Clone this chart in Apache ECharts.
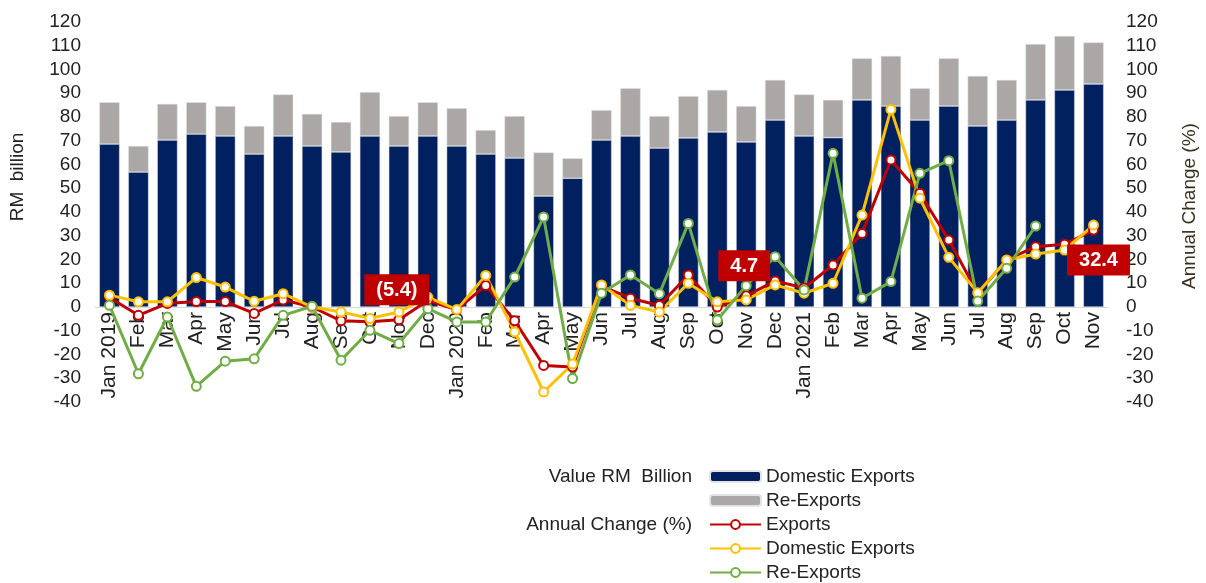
<!DOCTYPE html>
<html>
<head>
<meta charset="utf-8">
<title>Exports</title>
<script src="https://cdn.jsdelivr.net/npm/echarts@6/dist/echarts.min.js"></script>
<style>
  html, body { margin: 0; padding: 0; background: #fff; }
  #chart { width: 1206px; height: 583px; }
</style>
</head>
<body>
<div id="chart"></div>
<script>
// months, Jan 2019 - Nov 2021
var months = ['Jan 2019', 'Feb', 'Mar', 'Apr', 'May', 'Jun', 'Jul', 'Aug', 'Sep', 'Oct', 'Nov', 'Dec',
  'Jan 2020', 'Feb', 'Mar', 'Apr', 'May', 'Jun', 'Jul', 'Aug', 'Sep', 'Oct', 'Nov', 'Dec',
  'Jan 2021', 'Feb', 'Mar', 'Apr', 'May', 'Jun', 'Jul', 'Aug', 'Sep', 'Oct', 'Nov']

// value, RM billion
var domesticValue = [68.6, 56.8, 70.3, 72.8, 72.0, 64.4, 72.0, 67.8, 65.3, 72.0, 67.8, 72.0,
  67.8, 64.4, 62.7, 46.7, 54.2, 70.3, 72.0, 66.9, 71.2, 73.7, 69.5, 78.7,
  72.0, 71.3, 87.2, 84.6, 78.7, 84.6, 76.2, 78.7, 87.2, 91.4, 93.9]
var reExportValue = [17.6, 11.0, 15.2, 13.4, 12.6, 11.8, 17.5, 13.5, 12.6, 18.5, 12.6, 14.2,
  15.9, 10.1, 17.7, 18.4, 8.4, 12.6, 20.1, 13.5, 17.6, 17.7, 15.1, 16.9,
  17.5, 15.9, 17.5, 21.1, 13.4, 20.1, 21.1, 16.9, 23.5, 22.7, 17.5]

// annual change, %
var exportsChg = [4.0, -3.5, 1.5, 2.3, 2.3, -2.7, 3.0, 0.0, -5.8, -6.2, -5.4, 2.7,
  -1.2, 9.1, -5.8, -24.6, -25.3, 8.8, 3.7, 0.6, 13.5, 0.0, 4.7, 11.0,
  8.0, 17.7, 31.0, 61.9, 47.9, 28.2, 5.8, 19.8, 25.4, 26.4, 32.4]
var domesticChg = [5.0, 2.2, 2.2, 12.4, 8.4, 2.4, 5.6, 0.0, -2.1, -4.8, -2.1, 4.2,
  -1.1, 13.3, -10.5, -35.8, -24.0, 9.3, 0.7, -2.1, 10.0, 2.2, 3.0, 9.3,
  5.8, 10.0, 38.7, 83.2, 45.8, 20.9, 6.0, 19.8, 22.3, 24.0, 34.5]
var reExportChg = [0.7, -28.1, -4.2, -33.4, -22.8, -21.8, -3.5, 0.3, -22.4, -9.8, -15.4, -0.7,
  -6.3, -6.3, 12.6, 37.9, -30.1, 5.8, 13.5, 5.6, 35.2, -5.5, 9.0, 21.2,
  7.2, 64.7, 3.7, 10.7, 56.3, 61.6, 2.5, 16.3, 34.1, null, null]

// Nov points that carry a value box
var labelled = [10, 22, 34]

var font = "'Liberation Sans', Arial, sans-serif"
var chart = echarts.init(document.getElementById('chart'))

function lineSeries(name, color, data) {
  return {
    name: name,
    type: 'line',
    yAxisIndex: 1,
    data: data,
    symbol: 'circle',
    symbolSize: 9,
    lineStyle: { color: color, width: 3 },
    itemStyle: { color: '#fff', borderColor: color, borderWidth: 2 },
    z: 3
  }
}

var exportsSeries = lineSeries('Exports', '#C00000', exportsChg.map(function (v, i) {
  if (labelled.indexOf(i) < 0) return v
  return {
    value: v,
    label: {
      show: true,
      position: i === 34 ? 'bottom' : 'top',
      distance: 9,
      offset: i === 34 ? [5, 0] : [-2, 0],
      formatter: function (p) {
        var n = p.value
        return n < 0 ? '(' + Math.abs(n).toFixed(1) + ')' : n.toFixed(1)
      },
      color: '#fff',
      fontWeight: 'bold',
      fontSize: 20,
      fontFamily: font,
      backgroundColor: '#C00000',
      padding: [6, 12, 5, 12]
    }
  }
}))

// grid: top 22 (=120), bottom edge 402 (=-40), so zero sits 95px above the bottom
var option = {
  animation: false,
  textStyle: { fontFamily: font },
  grid: { left: 95, right: 98, top: 22, bottom: 181 },
  legend: {
    orient: 'vertical',
    left: 709,
    top: 467,
    padding: 0,
    itemWidth: 51,
    itemHeight: 11,
    itemGap: 5,
    textStyle: { fontSize: 19, color: '#222', lineHeight: 19 },
    data: ['Domestic Exports', 'Re-Exports', 'Exports', 'Domestic Exports ', 'Re-Exports ']
  },
  graphic: [
    { type: 'text', x: 18, y: 177, rotation: Math.PI / 2,
      style: { text: 'RM  billion', fontSize: 19, fontFamily: font, fill: '#222', align: 'center', verticalAlign: 'middle' } },
    { type: 'text', x: 1190, y: 206, rotation: Math.PI / 2,
      style: { text: 'Annual Change (%)', fontSize: 19, fontFamily: font, fill: '#3a3020', align: 'center', verticalAlign: 'middle' } },
    { type: 'text', x: 692, y: 477,
      style: { text: 'Value RM  Billion', fontSize: 19, fontFamily: font, fill: '#222', align: 'right', verticalAlign: 'middle' } },
    { type: 'text', x: 692, y: 525,
      style: { text: 'Annual Change (%)', fontSize: 19, fontFamily: font, fill: '#222', align: 'right', verticalAlign: 'middle' } }
  ],
  xAxis: {
    type: 'category',
    data: months,
    offset: -95,
    axisLine: { onZero: false, lineStyle: { color: '#d9d9d9', width: 1 } },
    axisTick: { show: false },
    axisLabel: { interval: 0, rotate: 90, fontSize: 21, color: '#222', margin: 5 }
  },
  yAxis: [
    {
      type: 'value', min: -40, max: 120, interval: 10,
      axisLine: { show: false }, axisTick: { show: false }, splitLine: { show: false },
      axisLabel: { fontSize: 19, color: '#222', margin: 14 }
    },
    {
      type: 'value', min: -40, max: 120, interval: 10,
      axisLine: { show: false }, axisTick: { show: false }, splitLine: { show: false },
      axisLabel: { fontSize: 19, color: '#222', margin: 18 }
    }
  ],
  series: [
    {
      name: 'Domestic Exports',
      type: 'bar',
      stack: 'value',
      data: domesticValue,
      barCategoryGap: '30%',
      itemStyle: { color: '#002060', borderColor: '#e4e4e4', borderWidth: 0.5 }
    },
    {
      name: 'Re-Exports',
      type: 'bar',
      stack: 'value',
      data: reExportValue,
      itemStyle: { color: '#ABA7A6', borderColor: '#e4e4e4', borderWidth: 0.5 }
    },
    exportsSeries,
    lineSeries('Domestic Exports ', '#FFC000', domesticChg),
    lineSeries('Re-Exports ', '#70AD47', reExportChg)
  ]
}

chart.setOption(option)
</script>
</body>
</html>
